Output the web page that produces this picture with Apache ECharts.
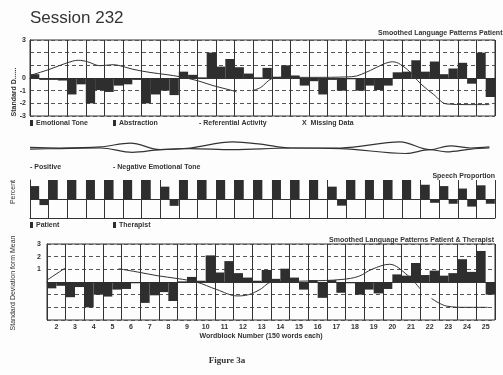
<!DOCTYPE html>
<html><head><meta charset="utf-8">
<script src="https://cdn.jsdelivr.net/npm/echarts@6/dist/echarts.min.js"></script>
<style>html,body{margin:0;padding:0;background:#fff}#c{width:503px;height:375px}</style>
</head><body><div id="c"></div>
<script>
// ---------- data ----------
const blocks = [1,2,3,4,5,6,7,8,9,10,11,12,13,14,15,16,17,18,19,20,21,22,23,24,25];
const wordblockLabels = ['2','3','4','5','6','7','8','9','10','11','12','13','14','15','16','17','18','19','20','21','22','23','24','25'];
const bottomBlocks = [2,3,4,5,6,7,8,9,10,11,12,13,14,15,16,17,18,19,20,21,22,23,24,25];

// Panel 1: Smoothed Language Patterns Patient (standard deviations)
const topEmotionalTone = [0.3,-0.15,-1.3,-2.0,-1.1,-0.5,-2.0,-1.0,0.5,0.05,0.9,0.85,0.05,0.1,0.2,-0.25,-0.15,-0.1,-0.6,-0.6,0.5,0.5,0.3,1.2,2.0];
const topAbstraction   = [-0.15,-0.2,-0.5,-0.95,-0.6,-0.15,-1.3,-1.35,0.25,2.0,1.5,0.35,0.8,1.0,-0.6,-1.3,-1.0,-1.0,-0.95,0.45,1.4,1.3,0.75,-0.45,-1.5];
const topReferentialX1 = [0,1.08,2.0,2.6,3.1,3.76,4.46,4.84,5.5,6.45,7.37,8.06,8.98,9.84,10.9,11.1];
const topReferentialY1 = [0.2,0.7,1.2,1.4,1.28,0.97,1.05,0.97,0.7,0.44,0.26,0.1,-0.2,-0.6,-1.0,-1.1];
const topReferentialX2 = [11.94,12.4,13.0,13.6,15.0,17.3,18.3,19.0,19.5,20.3,21.0,21.7,22.4,23.5,24.7];
const topReferentialY2 = [-1.0,-0.75,-0.05,0.05,0.05,0.1,0.6,1.1,1.28,0.65,-0.45,-1.3,-2.05,-2.1,-2.1];

// Panel 2: Positive / Negative Emotional Tone
const positiveX = [0,1.6,3.8,5.4,7.0,8.6,10.9,12.4,14.0,16.7,19.9,21.5,22.6,23.7,24.7];
const positiveY = [0.05,0,0.1,0.45,-0.15,0,0.55,0.35,0,0,0.55,-0.15,0.2,0,0.1];
const negativeX = [0,1.6,3.8,5.5,7.0,8.6,10.9,14.0,16.7,20.2,21.5,22.4,23.7,24.7];
const negativeY = [-0.1,-0.05,0,-0.4,-0.15,-0.05,-0.15,0,-0.05,-0.5,-0.15,-0.35,-0.1,0];

// Panel 3: Speech Proportion
const patientShare   = [0.68,1,1,1,1,1,1,0.65,1,1,1,1,1,1,1,1,0.65,1,1,1,1,0.75,0.68,0.55,0.72];
const therapistShare = [0.32,0,0,0,0,0,0,0.36,0,0,0,0,0,0,0,0,0.35,0,0,0,0,0.2,0.25,0.4,0.25];

// Panel 4: Smoothed Language Patterns Patient & Therapist
const bottomEmotionalTone = [-0.5,-1.2,-2.0,-1.15,-0.55,-1.65,-0.8,0.05,0.1,0.75,0.7,0.1,0.25,0.35,0.15,0.15,-0.1,-0.6,-0.55,0.5,0.55,0.5,1.8,2.45];
const bottomAbstraction   = [-0.3,-0.4,-1.0,-0.6,-0.1,-1.05,-1.5,0.4,2.1,1.65,0.35,0.95,1.05,-0.6,-1.25,-0.85,-1.0,-0.9,0.6,1.5,0.9,0.7,0.8,-1.0];
const bottomReferentialX1 = [1.0,1.97];
const bottomReferentialY1 = [0.15,1.1];
const bottomReferentialX2 = [4.84,6.0,6.9,8.0,9.0,10.1,11.2,11.8,12.4,13.06,15.05,16.8,17.7,18.4,19.35,20.3,21.0];
const bottomReferentialY2 = [1.05,0.75,0.5,0.27,0.0,-0.6,-1.1,-1.0,-0.6,0.0,0.08,0.2,0.45,1.0,1.4,0.55,-0.55];
const bottomReferentialX3 = [21.6,22.4,23.5,24.6];
const bottomReferentialY3 = [-1.3,-1.9,-2.0,-2.0];

// ---------- helpers ----------
const INK = '#2e2e2e';
const FONT = 'Liberation Sans, Arial, sans-serif';
const pairs = (xs, ys) => xs.map((x, i) => [x, ys[i]]);
const halfLeft = (bs, vs) => bs.map((b, i) => [b - 0.75, vs[i]]);
const halfRight = (bs, vs) => bs.map((b, i) => [b - 0.25, vs[i]]);

const barStyle = { color: INK };
function barSeries(name, data, xi, yi, w) {
  return { name, type: 'bar', xAxisIndex: xi, yAxisIndex: yi, data, barWidth: w, barGap: '-100%', itemStyle: barStyle, z: 2 };
}
function lineSeries(name, data, xi, yi, width) {
  return { name, type: 'line', xAxisIndex: xi, yAxisIndex: yi, data, smooth: 0.35, showSymbol: false, symbol: 'none',
    lineStyle: { color: '#333', width: width || 1 }, z: 5 };
}

const vGrid = { show: true, lineStyle: { color: '#333', width: 1 } };
const hDash = { show: true, lineStyle: { color: '#555', width: 1, type: [4, 3] } };

const option = {
  backgroundColor: '#fdfdfd',
  animation: false,
  textStyle: { fontFamily: FONT },
  grid: [
    { left: 30, top: 40, width: 465, height: 76, show: true, borderColor: '#333', borderWidth: 1, backgroundColor: 'transparent' },
    { left: 30, top: 137, width: 465, height: 22 },
    { left: 30, top: 180, width: 465, height: 38 },
    { left: 47, top: 244, width: 448, height: 76, show: true, borderColor: '#333', borderWidth: 1, backgroundColor: 'transparent' }
  ],
  xAxis: [
    { gridIndex: 0, type: 'value', min: 0, max: 25, interval: 1, axisLabel: { show: false }, axisTick: { show: false },
      axisLine: { onZero: true, lineStyle: { color: '#333', width: 1.2 } }, splitLine: vGrid },
    { gridIndex: 1, type: 'value', min: 0, max: 25, show: false },
    { gridIndex: 2, type: 'value', min: 0, max: 25, interval: 1, axisLabel: { show: false }, axisTick: { show: false },
      axisLine: { onZero: false, lineStyle: { color: '#333', width: 1 } }, splitLine: vGrid },
    { gridIndex: 3, type: 'value', min: 1, max: 25, interval: 1, axisLabel: { show: false }, axisTick: { show: false },
      axisLine: { onZero: true, lineStyle: { color: '#333', width: 1.2 } }, splitLine: vGrid },
    { gridIndex: 3, type: 'category', data: wordblockLabels, position: 'bottom', boundaryGap: true,
      axisLine: { show: false, onZero: false }, axisTick: { show: false }, splitLine: { show: false },
      axisLabel: { show: true, interval: 0, margin: 4, fontSize: 7, fontWeight: 'bold', color: '#333', fontFamily: FONT } }
  ],
  yAxis: [
    { gridIndex: 0, type: 'value', min: -3, max: 3, interval: 1,
      axisLine: { show: true, lineStyle: { color: '#333' } }, axisTick: { show: false },
      axisLabel: { fontSize: 7, fontWeight: 'bold', color: '#333', margin: 4, fontFamily: FONT,
        formatter: v => (v <= 0 || v === 3) ? String(v) : '' },
      splitLine: hDash },
    { gridIndex: 1, type: 'value', min: -1, max: 1, show: false },
    { gridIndex: 2, type: 'value', min: -1, max: 1, interval: 1,
      axisLine: { show: true, lineStyle: { color: '#333' } }, axisTick: { show: false }, axisLabel: { show: false },
      splitLine: { show: true, showMinLine: false, showMaxLine: false, lineStyle: { color: '#333', width: 1 } } },
    { gridIndex: 3, type: 'value', min: -3, max: 3, interval: 1,
      axisLine: { show: true, lineStyle: { color: '#333' } }, axisTick: { show: false },
      axisLabel: { fontSize: 7, fontWeight: 'bold', color: '#333', margin: 6, fontFamily: FONT,
        formatter: v => v > 0 ? String(v) : '' },
      splitLine: hDash }
  ],
  series: [
    barSeries('Emotional Tone', halfLeft(blocks, topEmotionalTone), 0, 0, 9.3),
    barSeries('Abstraction', halfRight(blocks, topAbstraction), 0, 0, 9.3),
    lineSeries('Referential Activity', pairs(topReferentialX1, topReferentialY1), 0, 0),
    lineSeries('Referential Activity', pairs(topReferentialX2, topReferentialY2), 0, 0),

    lineSeries('Positive', pairs(positiveX, positiveY), 1, 1, 1.2),
    lineSeries('Negative Emotional Tone', pairs(negativeX, negativeY), 1, 1, 1.2),

    barSeries('Patient', halfLeft(blocks, patientShare), 2, 2, 9),
    barSeries('Therapist', halfRight(blocks, therapistShare.map(v => -v)), 2, 2, 9),

    barSeries('Emotional Tone', halfLeft(bottomBlocks, bottomEmotionalTone), 3, 3, 9.3),
    barSeries('Abstraction', halfRight(bottomBlocks, bottomAbstraction), 3, 3, 9.3),
    lineSeries('Referential Activity', pairs(bottomReferentialX1, bottomReferentialY1), 3, 3),
    lineSeries('Referential Activity', pairs(bottomReferentialX2, bottomReferentialY2), 3, 3),
    lineSeries('Referential Activity', pairs(bottomReferentialX3, bottomReferentialY3), 3, 3)
  ],
  graphic: [
    { type: 'text', left: 30, top: 10, style: { text: 'Session 232', fontSize: 17, fontFamily: FONT, fill: '#333' } },
    { type: 'text', x: 378, y: 33, style: { text: 'Smoothed Language Patterns Patient', fontSize: 7, fontWeight: 'bold', fontFamily: FONT, fill: '#333', verticalAlign: 'middle' } },
    // legend row 1
    { type: 'rect', shape: { x: 30, y: 120, width: 3, height: 6 }, style: { fill: INK } },
    { type: 'text', x: 36, y: 123, style: { text: 'Emotional Tone', fontSize: 7, fontWeight: 'bold', fontFamily: FONT, fill: '#333', verticalAlign: 'middle' } },
    { type: 'rect', shape: { x: 113, y: 120, width: 3, height: 6 }, style: { fill: INK } },
    { type: 'text', x: 119, y: 123, style: { text: 'Abstraction', fontSize: 7, fontWeight: 'bold', fontFamily: FONT, fill: '#333', verticalAlign: 'middle' } },
    { type: 'text', x: 199, y: 123, style: { text: '- Referential Activity', fontSize: 7, fontWeight: 'bold', fontFamily: FONT, fill: '#333', verticalAlign: 'middle' } },
    { type: 'text', x: 302, y: 123, style: { text: 'X  Missing Data', fontSize: 7, fontWeight: 'bold', fontFamily: FONT, fill: '#333', verticalAlign: 'middle' } },
    // legend row 2
    { type: 'text', x: 30, y: 167, style: { text: '- Positive', fontSize: 7, fontWeight: 'bold', fontFamily: FONT, fill: '#333', verticalAlign: 'middle' } },
    { type: 'text', x: 113, y: 167, style: { text: '- Negative Emotional Tone', fontSize: 7, fontWeight: 'bold', fontFamily: FONT, fill: '#333', verticalAlign: 'middle' } },
    { type: 'text', x: 495, y: 176, style: { text: 'Speech Proportion', fontSize: 7, fontWeight: 'bold', fontFamily: FONT, fill: '#333', align: 'right', verticalAlign: 'middle' } },
    // legend row 3
    { type: 'rect', shape: { x: 30, y: 222, width: 3, height: 6 }, style: { fill: INK } },
    { type: 'text', x: 36, y: 225, style: { text: 'Patient', fontSize: 7, fontWeight: 'bold', fontFamily: FONT, fill: '#333', verticalAlign: 'middle' } },
    { type: 'rect', shape: { x: 113, y: 222, width: 3, height: 6 }, style: { fill: INK } },
    { type: 'text', x: 119, y: 225, style: { text: 'Therapist', fontSize: 7, fontWeight: 'bold', fontFamily: FONT, fill: '#333', verticalAlign: 'middle' } },
    { type: 'text', x: 494, y: 240, style: { text: 'Smoothed Language Patterns Patient & Therapist', fontSize: 7, fontWeight: 'bold', fontFamily: FONT, fill: '#333', align: 'right', verticalAlign: 'middle' } },
    // axis titles
    { type: 'text', x: 14, y: 92, rotation: Math.PI / 2, style: { text: 'Standard D......', fontSize: 7, fontWeight: 'bold', fontFamily: FONT, fill: '#333', align: 'center', verticalAlign: 'middle' } },
    { type: 'text', x: 13, y: 192, rotation: Math.PI / 2, style: { text: 'Percent', fontSize: 7, fontFamily: FONT, fill: '#333', align: 'center', verticalAlign: 'middle' } },
    { type: 'text', x: 13, y: 283, rotation: Math.PI / 2, style: { text: 'Standard Deviation form Mean', fontSize: 7, fontFamily: FONT, fill: '#333', align: 'center', verticalAlign: 'middle' } },
    { type: 'text', x: 261, y: 336, style: { text: 'Wordblock Number (150 words each)', fontSize: 7, fontWeight: 'bold', fontFamily: FONT, fill: '#333', align: 'center', verticalAlign: 'middle' } },
    { type: 'text', x: 227, y: 361, style: { text: 'Figure 3a', fontSize: 9, fontWeight: 'bold', fontFamily: 'Liberation Serif, DejaVu Serif, serif', fill: '#333', align: 'center', verticalAlign: 'middle' } }
  ]
};

const chart = echarts.init(document.getElementById('c'), null, { renderer: 'canvas' });
chart.setOption(option);
</script>
</body></html>
